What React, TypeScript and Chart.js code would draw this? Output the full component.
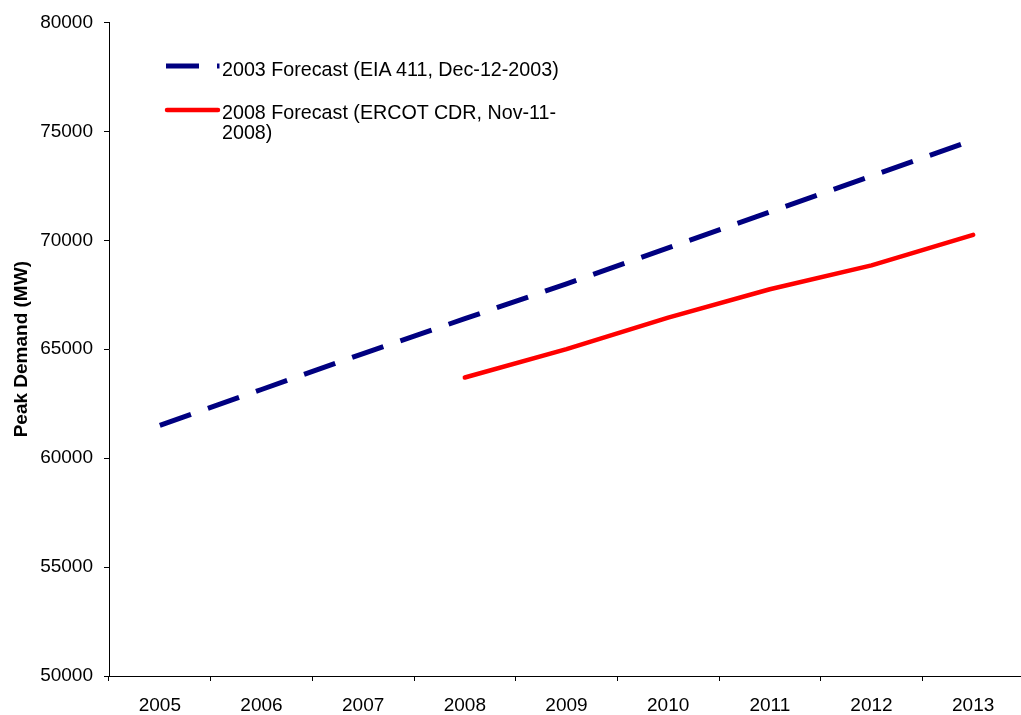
import React, { useEffect, useRef } from "react";
import { Chart, registerables } from "chart.js";

Chart.register(...registerables);

const categories = ["2005", "2006", "2007", "2008", "2009", "2010", "2011", "2012", "2013"];
const forecast2003 = [61500, 63150, 64800, 66400, 68000, 69650, 71300, 72950, 74600];
const forecast2008 = [null, null, null, 63700, 65000, 66450, 67750, 68850, 70250];
const legendLines2003 = ["2003 Forecast (EIA 411, Dec-12-2003)"];
const legendLines2008 = ["2008 Forecast (ERCOT CDR, Nov-11-", "2008)"];
const yTickValues = [50000, 55000, 60000, 65000, 70000, 75000, 80000];
const yTitle = "Peak Demand (MW)";

const FONT = '"Liberation Sans", Arial, sans-serif';

export default function App() {
  const ref = useRef<HTMLCanvasElement | null>(null);

  useEffect(() => {
    if (!ref.current) return;
    const chart = new Chart(ref.current, {
      type: "line",
      data: {
        labels: categories,
        datasets: [
          {
            label: legendLines2003.join(" "),
            data: forecast2003,
            borderColor: "#000080",
            borderWidth: 5,
            borderDash: [33, 18],
            borderCapStyle: "butt",
            pointRadius: 0,
            tension: 0,
            fill: false,
          },
          {
            label: legendLines2008.join(""),
            data: forecast2008,
            borderColor: "#FF0000",
            borderWidth: 4.5,
            borderCapStyle: "round",
            borderJoinStyle: "round",
            pointRadius: 0,
            tension: 0,
            fill: false,
          },
        ],
      },
      options: {
        responsive: false,
        animation: false,
        devicePixelRatio: 1,
        layout: { padding: { top: 20, left: 0, right: 0, bottom: 0 } },
        plugins: { legend: { display: false }, tooltip: { enabled: false } },
        scales: {
          x: {
            type: "category",
            offset: true,
            grid: {
              offset: true,
              drawOnChartArea: false,
              drawTicks: true,
              tickLength: 5,
              color: "#000",
              lineWidth: 1,
            },
            border: { display: true, color: "#000", width: 1 },
            ticks: {
              color: "#000",
              font: { family: FONT, size: 19 },
              padding: 13,
              maxRotation: 0,
              autoSkip: false,
            },
            afterFit: (s: any) => {
              s.height = 39;
            },
          },
          y: {
            min: 50000,
            max: 80000,
            afterBuildTicks: (s: any) => {
              s.ticks = yTickValues.map((v) => ({ value: v }));
            },
            ticks: {
              color: "#000",
              font: { family: FONT, size: 19 },
              padding: 11,
              callback: (v: any) => String(v),
            },
            grid: {
              drawOnChartArea: false,
              drawTicks: true,
              tickLength: 5,
              color: "#000",
              lineWidth: 1,
            },
            border: { display: true, color: "#000", width: 1 },
            title: {
              display: true,
              text: yTitle,
              color: "#000",
              font: { family: FONT, size: 19, weight: "bold" },
              padding: { top: 10, bottom: 0 },
            },
            afterFit: (s: any) => {
              s.width = 109;
            },
          },
        },
      },
    });
    return () => chart.destroy();
  }, []);

  const textStyle: React.CSSProperties = {
    position: "absolute",
    left: 222,
    font: `19.7px ${FONT}`,
    lineHeight: "19.5px",
    color: "#000",
    whiteSpace: "nowrap",
  };

  return (
    <div
      style={{
        position: "absolute",
        left: 0,
        top: 0,
        width: 1021,
        height: 715,
        overflow: "hidden",
        background: "#fff",
      }}
    >
      <canvas ref={ref} width={1024} height={715} style={{ display: "block" }} />
      <svg
        width={1021}
        height={715}
        style={{ position: "absolute", left: 0, top: 0, pointerEvents: "none" }}
      >
        <line x1={166} y1={66} x2={199} y2={66} stroke="#000080" strokeWidth={5} />
        <line x1={217} y1={66} x2={219.5} y2={66} stroke="#000080" strokeWidth={5} />
        <line
          x1={167}
          y1={110}
          x2={218}
          y2={110}
          stroke="#FF0000"
          strokeWidth={4.5}
          strokeLinecap="round"
        />
      </svg>
      <div style={{ ...textStyle, top: 60 }}>
        {legendLines2003.map((l, i) => (
          <div key={i}>{l}</div>
        ))}
      </div>
      <div style={{ ...textStyle, top: 103 }}>
        {legendLines2008.map((l, i) => (
          <div key={i}>{l}</div>
        ))}
      </div>
    </div>
  );
}
